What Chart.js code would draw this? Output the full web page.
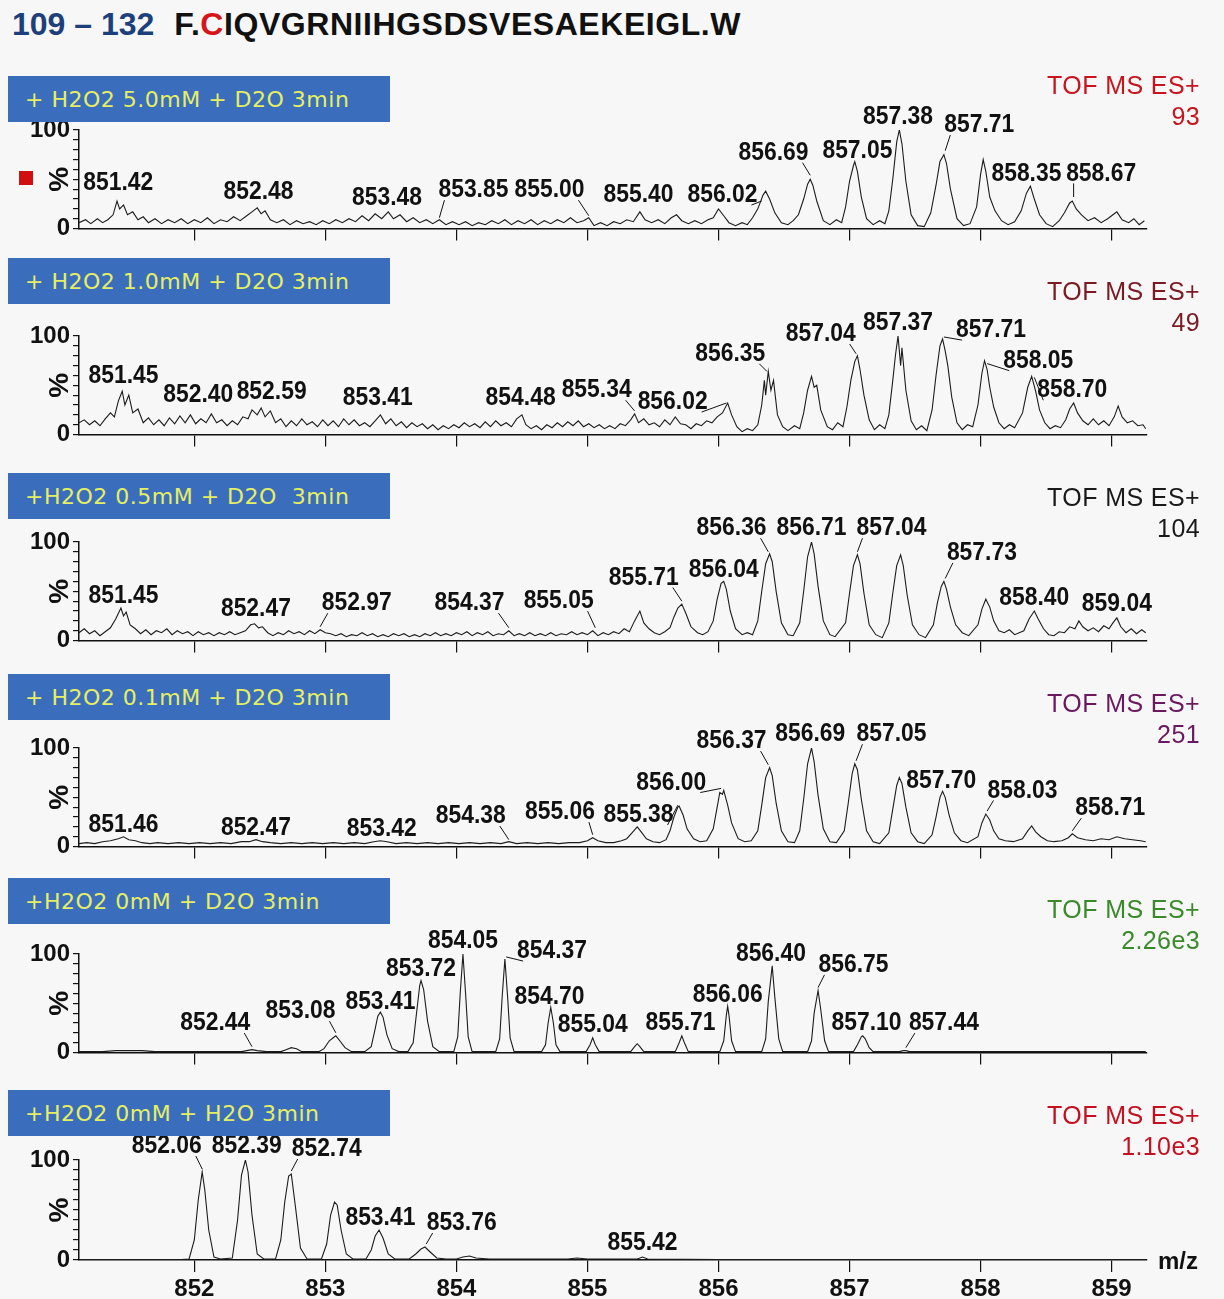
<!DOCTYPE html>
<html>
<head>
<meta charset="utf-8">
<script src="https://cdn.jsdelivr.net/npm/chart.js@4.4.0/dist/chart.umd.min.js"></script>
<style>
  html, body { margin: 0; padding: 0; }
  body { width: 1224px; height: 1299px; overflow: hidden; background: #f7f7f7; position: relative;
         font-family: "Liberation Sans", Arial, sans-serif; }
  canvas { position: absolute; left: 0; }
  #title { position: absolute; left: 12px; top: 8px; font-weight: bold; font-size: 32px; line-height: 32px; white-space: pre; }
  #title .num { color: #1d3f7c; }
  #title .seq { color: #111; margin-left: 20px; letter-spacing: 0.55px; }
  #title .red { color: #d7141a; }
  .box { position: absolute; left: 8px; width: 382px; height: 46px; background: #3b6dbd; z-index: 2;
         color: #e6ef62; font-family: "DejaVu Sans", Verdana, sans-serif; font-size: 22px; letter-spacing: 0.5px;
         display: flex; align-items: center; padding-left: 17px; box-sizing: border-box; white-space: pre; }
  .tof { position: absolute; right: 24px; font-size: 25px; line-height: 25px; letter-spacing: 0.4px; text-align: right; z-index: 2; }
  #mz { position: absolute; left: 1158px; top: 1249px; font-weight: bold; font-size: 24px; line-height: 24px; color: #111; }
  #sq { position: absolute; left: 19px; top: 171px; width: 14px; height: 14px; background: #d01010; z-index: 2; }
</style>
</head>
<body>
<div id="title"><span class="num">109 – 132</span><span class="seq">F.<span class="red">C</span>IQVGRNIIHGSDSVESAEKEIGL.W</span></div>
<div id="panels"></div>
<div id="sq"></div>
<div id="mz">m/z</div>
<script>
// axis ticks
var xTicks = [852, 853, 854, 855, 856, 857, 858, 859];
var yTicks = [0, 10, 20, 30, 40, 50, 60, 70, 80, 90, 100];

// panel headers
var conditions = ['+ H2O2 5.0mM + D2O 3min', '+ H2O2 1.0mM + D2O 3min', '+H2O2 0.5mM + D2O  3min',
                  '+ H2O2 0.1mM + D2O 3min', '+H2O2 0mM + D2O 3min', '+H2O2 0mM + H2O 3min'];
var maxIntensity = ['93', '49', '104', '251', '2.26e3', '1.10e3'];

// spectra, [m/z, %]
var trace1 = [
 [851.12,6],[851.17,9],[851.21,5],[851.26,10],[851.30,6],[851.34,9],[851.38,14],[851.41,28],[851.43,20],[851.46,24],[851.49,14],[851.53,17],[851.57,9],[851.61,12],[851.65,6],[851.70,10],[851.75,5],[851.80,9],[851.85,6],[851.90,10],[851.95,5],[852.00,9],[852.05,6],[852.10,11],[852.15,5],[852.20,9],[852.25,7],[852.30,12],[852.35,8],[852.40,13],[852.44,17],[852.48,21],[852.51,15],[852.54,18],[852.58,9],[852.63,6],[852.68,9],[852.73,4],[852.78,8],[852.83,5],[852.88,7],[852.93,4],[852.98,8],[853.03,5],[853.08,9],[853.13,6],[853.18,10],[853.23,7],[853.28,13],[853.33,8],[853.38,15],[853.43,10],[853.48,17],[853.52,10],[853.57,14],[853.62,7],[853.67,11],[853.72,6],[853.77,9],[853.82,5],[853.87,9],[853.92,4],[853.97,7],[854.02,4],[854.07,7],[854.12,3],[854.17,6],[854.22,4],[854.27,8],[854.32,5],[854.37,9],[854.42,4],[854.47,8],[854.52,5],[854.57,9],[854.62,4],[854.67,8],[854.72,5],[854.77,9],[854.82,6],[854.87,11],[854.92,6],[854.97,8],[855.01,11],[855.05,3],[855.10,6],[855.15,3],[855.20,7],[855.25,5],[855.30,9],[855.35,7],[855.40,17],[855.44,9],[855.49,6],[855.54,9],[855.59,5],[855.64,11],[855.68,14],[855.72,8],[855.77,5],[855.82,8],[855.87,5],[855.92,9],[855.96,11],[856.00,20],[856.04,13],[856.08,6],[856.13,3],[856.18,6],[856.22,4],[856.26,11],
 [856.30,20],[856.34,34],[856.36,38],[856.39,30],[856.43,16],[856.48,6],[856.53,4],[856.57,8],
 [856.61,14],[856.65,30],[856.68,45],[856.70,50],[856.72,44],[856.75,28],[856.80,8],[856.85,4],[856.90,9],[856.94,6],
 [856.97,22],[857.00,48],[857.03,64],[857.04,68],[857.06,58],[857.09,32],[857.13,10],[857.18,4],[857.23,8],[857.27,5],
 [857.30,18],[857.33,50],[857.36,88],[857.38,100],[857.40,86],[857.43,48],[857.47,14],[857.52,3],[857.57,2],
 [857.62,16],[857.66,44],[857.69,68],[857.72,75],[857.74,66],[857.77,40],[857.82,10],[857.87,3],[857.92,5],
 [857.97,22],[858.00,55],[858.02,70],[858.04,58],[858.07,32],[858.11,18],[858.16,8],[858.21,4],[858.26,7],
 [858.31,18],[858.35,36],[858.38,43],[858.41,30],[858.45,14],[858.50,5],[858.55,2],[858.60,8],
 [858.64,16],[858.68,26],[858.70,28],[858.73,20],[858.77,14],[858.82,8],[858.87,11],[858.92,6],[858.97,10],[859.01,14],[859.04,17],[859.08,9],[859.13,6],[859.17,10],[859.21,4],[859.25,8]
];
var trace2 = [
 [851.12,12],[851.16,15],[851.20,10],[851.24,14],[851.28,9],[851.32,16],[851.36,22],[851.39,18],[851.42,34],[851.45,44],[851.47,30],[851.50,40],[851.53,22],[851.57,26],[851.61,12],[851.65,17],[851.69,10],[851.73,15],[851.77,9],[851.81,17],[851.85,11],[851.89,19],[851.93,12],[851.97,20],[852.01,11],[852.05,16],[852.09,12],[852.13,21],[852.17,12],[852.21,15],[852.25,9],[852.29,14],[852.33,10],[852.37,18],[852.41,16],[852.44,25],[852.48,20],[852.51,27],[852.54,18],[852.58,24],[852.62,12],[852.66,16],[852.70,8],[852.74,14],[852.78,9],[852.82,16],[852.86,10],[852.90,13],[852.94,8],[852.98,15],[853.02,9],[853.06,14],[853.10,8],[853.14,16],[853.18,10],[853.22,15],[853.26,9],[853.30,12],[853.34,8],[853.38,14],[853.42,20],[853.46,11],[853.50,16],[853.54,9],[853.58,13],[853.62,7],[853.66,12],[853.70,8],[853.74,11],[853.78,6],[853.82,10],[853.86,5],[853.90,9],[853.94,6],[853.98,10],[854.02,7],[854.06,12],[854.10,8],[854.14,11],[854.18,7],[854.22,13],[854.26,8],[854.30,14],[854.34,9],[854.38,12],[854.42,8],[854.46,16],[854.50,20],[854.53,10],[854.57,6],[854.61,9],[854.65,5],[854.69,10],[854.73,7],[854.77,12],[854.81,8],[854.85,13],[854.89,9],[854.93,14],[854.97,8],[855.01,11],[855.05,7],[855.09,10],[855.13,6],[855.17,9],[855.21,6],[855.25,11],[855.29,9],[855.33,15],[855.36,21],[855.39,12],[855.43,16],[855.47,10],[855.51,12],[855.55,8],[855.59,15],[855.63,10],[855.67,18],[855.71,11],[855.75,10],[855.79,6],[855.83,11],[855.87,9],[855.91,14],[855.95,12],[855.99,18],[856.03,22],[856.07,32],[856.10,20],[856.14,8],[856.18,3],[856.22,6],[856.26,4],[856.30,10],
 [856.33,30],[856.35,55],[856.36,40],[856.38,64],[856.40,45],[856.42,55],[856.45,20],[856.49,8],[856.53,4],[856.58,9],[856.62,6],
 [856.65,22],[856.68,45],[856.71,59],[856.73,48],[856.75,50],[856.78,25],[856.83,8],[856.87,5],[856.91,12],[856.95,8],
 [856.98,28],[857.01,55],[857.04,74],[857.06,80],[857.08,66],[857.11,40],[857.15,15],[857.19,5],[857.23,10],[857.27,6],
 [857.30,20],[857.33,55],[857.35,80],[857.37,100],[857.39,70],[857.40,88],[857.43,45],[857.47,14],[857.51,5],[857.55,9],[857.59,4],
 [857.63,25],[857.66,60],[857.69,90],[857.71,97],[857.73,85],[857.75,70],[857.78,38],[857.82,12],[857.86,5],[857.90,10],[857.94,8],
 [857.98,30],[858.01,62],[858.03,75],[858.05,66],[858.07,48],[858.10,28],[858.14,12],[858.18,6],[858.22,10],[858.26,7],
 [858.32,22],[858.36,48],[858.39,59],[858.42,44],[858.45,25],[858.49,12],[858.53,6],[858.57,9],[858.61,7],
 [858.65,15],[858.68,26],[858.71,32],[858.74,22],[858.78,14],[858.82,10],[858.86,16],[858.90,10],[858.94,14],[858.98,9],[859.02,18],[859.05,29],[859.08,18],[859.12,12],[859.16,14],[859.20,9],[859.24,10],[859.26,6]
];
var trace3 = [
 [851.12,8],[851.16,12],[851.20,7],[851.24,10],[851.28,5],[851.32,9],[851.36,13],[851.40,22],[851.44,33],[851.46,25],[851.48,29],[851.51,16],[851.55,12],[851.59,7],[851.63,11],[851.67,6],[851.71,10],[851.75,8],[851.79,12],[851.83,6],[851.87,10],[851.91,7],[851.95,9],[851.99,5],[852.03,9],[852.07,6],[852.11,8],[852.15,5],[852.19,8],[852.23,6],[852.27,9],[852.31,6],[852.35,8],[852.39,10],[852.43,16],[852.46,17],[852.49,13],[852.52,14],[852.56,8],[852.60,5],[852.64,8],[852.68,6],[852.72,10],[852.76,7],[852.80,9],[852.84,6],[852.88,10],[852.92,7],[852.96,11],[853.00,8],[853.04,7],[853.08,5],[853.12,7],[853.16,4],[853.20,6],[853.24,5],[853.28,8],[853.32,5],[853.36,7],[853.40,4],[853.44,6],[853.48,4],[853.52,7],[853.56,5],[853.60,7],[853.64,4],[853.68,6],[853.72,4],[853.76,7],[853.80,5],[853.84,8],[853.88,5],[853.92,7],[853.96,5],[854.00,8],[854.04,6],[854.08,9],[854.12,5],[854.16,8],[854.20,6],[854.24,9],[854.28,5],[854.32,7],[854.36,6],[854.40,10],[854.44,5],[854.48,7],[854.52,5],[854.56,8],[854.60,5],[854.64,7],[854.68,5],[854.72,8],[854.76,5],[854.80,7],[854.84,6],[854.88,9],[854.92,6],[854.96,8],[855.00,6],[855.04,10],[855.08,5],[855.12,8],[855.16,6],[855.20,9],[855.24,7],[855.28,12],[855.32,9],[855.36,20],[855.40,30],[855.43,18],[855.47,12],[855.51,8],[855.55,6],[855.59,9],[855.63,13],
 [855.66,24],[855.69,33],[855.72,37],[855.75,28],[855.79,14],[855.84,8],[855.88,6],[855.92,9],
 [855.96,20],[855.99,42],[856.02,58],[856.04,60],[856.06,52],[856.09,30],[856.13,12],[856.18,6],[856.22,8],[856.26,6],
 [856.30,20],[856.33,50],[856.36,78],[856.39,88],[856.41,80],[856.44,50],[856.48,18],[856.53,6],[856.57,5],
 [856.62,18],[856.65,50],[856.68,85],[856.71,100],[856.73,88],[856.76,55],[856.80,20],[856.85,6],[856.89,4],
 [856.97,18],[857.00,48],[857.03,76],[857.06,87],[857.08,78],[857.11,48],[857.15,16],[857.20,6],[857.25,3],
 [857.30,18],[857.33,48],[857.36,76],[857.39,87],[857.41,76],[857.44,46],[857.48,16],[857.53,6],[857.58,3],
 [857.64,16],[857.67,38],[857.70,55],[857.72,60],[857.74,52],[857.77,34],[857.81,16],[857.86,8],[857.91,5],
 [857.98,16],[858.01,32],[858.04,42],[858.07,34],[858.10,20],[858.14,10],[858.18,8],[858.22,11],[858.26,6],
 [858.33,10],[858.37,22],[858.41,30],[858.44,22],[858.48,12],[858.52,6],[858.56,5],[858.60,9],[858.64,8],[858.68,14],[858.72,12],[858.75,20],[858.78,14],[858.82,10],[858.86,13],[858.90,9],[858.94,15],[858.98,12],[859.01,18],[859.04,23],[859.07,14],[859.11,8],[859.15,12],[859.19,7],[859.23,11],[859.26,8]
];
var trace4 = [
 [851.12,3],[851.18,4],[851.24,3],[851.30,5],[851.36,6],[851.42,8],[851.46,10],[851.50,7],[851.55,6],[851.60,4],[851.66,3],[851.72,4],[851.80,3],[851.88,4],[851.96,3],[852.04,4],[852.12,3],[852.20,4],[852.28,3],[852.36,5],[852.42,5],[852.47,7],[852.52,5],[852.58,4],[852.66,3],[852.74,4],[852.82,3],[852.90,4],[852.98,3],[853.06,4],[853.14,3],[853.22,4],[853.30,3],[853.37,5],[853.42,6],[853.47,5],[853.54,3],[853.62,4],[853.70,3],[853.78,4],[853.86,3],[853.94,4],[854.02,3],[854.10,4],[854.18,3],[854.26,4],[854.34,3],[854.40,5],[854.46,3],[854.54,4],[854.62,3],[854.70,4],[854.78,3],[854.86,4],[854.94,4],[855.00,6],[855.04,9],[855.08,6],[855.14,4],[855.20,4],[855.26,6],[855.30,8],
 [855.34,14],[855.38,20],[855.41,15],[855.45,8],[855.50,5],[855.55,4],[855.60,7],
 [855.63,16],[855.66,30],[855.69,40],[855.70,41],[855.73,32],[855.76,18],[855.81,8],[855.86,5],[855.91,6],
 [855.96,18],[855.99,40],[856.01,55],[856.03,53],[856.04,57],[856.07,42],[856.10,24],[856.15,8],[856.20,5],[856.25,6],
 [856.30,16],[856.33,42],[856.36,70],[856.39,80],[856.41,72],[856.44,44],[856.48,16],[856.53,5],[856.58,4],
 [856.62,16],[856.65,48],[856.68,84],[856.71,100],[856.73,86],[856.76,52],[856.80,18],[856.85,5],[856.90,4],
 [856.96,16],[856.99,44],[857.02,74],[857.04,84],[857.06,78],[857.09,48],[857.13,16],[857.18,5],[857.23,3],
 [857.30,14],[857.33,38],[857.36,62],[857.38,70],[857.40,64],[857.43,40],[857.47,14],[857.52,5],[857.57,3],
 [857.63,12],[857.66,30],[857.69,50],[857.71,56],[857.73,50],[857.76,32],[857.80,14],[857.85,6],[857.90,4],
 [857.98,10],[858.01,24],[858.04,33],[858.07,27],[858.10,16],[858.14,8],[858.19,6],[858.25,5],
 [858.32,8],[858.36,16],[858.39,21],[858.42,15],[858.46,10],[858.51,6],[858.56,5],[858.62,6],
 [858.67,9],[858.70,13],[858.74,9],[858.80,7],[858.86,6],[858.92,8],[858.98,7],[859.04,10],[859.10,8],[859.16,7],[859.22,6],[859.26,5]
];
var trace5 = [
 [851.12,1],[851.30,1],[851.40,2],[851.50,2],[851.60,2],[851.70,1],[851.80,1],[851.90,1],[852.00,1],[852.20,1],[852.36,1],[852.40,2],[852.44,3],[852.48,2],[852.55,1],[852.66,1],[852.70,3],[852.74,5],[852.78,4],[852.82,1],[852.95,1],[852.99,4],[853.03,12],[853.06,15],[853.08,17],[853.11,12],[853.15,5],[853.20,1],
 [853.30,1],[853.35,6],[853.38,24],[853.40,37],[853.42,41],[853.44,36],[853.47,18],[853.51,4],[853.56,1],
 [853.63,1],[853.67,10],[853.70,45],[853.72,68],[853.73,73],[853.75,64],[853.78,32],[853.82,6],[853.87,1],
 [853.98,1],[854.01,16],[854.03,62],[854.05,100],[854.07,60],[854.09,16],[854.12,1],
 [854.30,1],[854.33,14],[854.35,58],[854.37,95],[854.39,58],[854.41,15],[854.44,1],
 [854.65,1],[854.68,8],[854.70,30],[854.72,46],[854.74,30],[854.76,8],[854.79,1],
 [854.99,1],[855.02,8],[855.04,15],[855.06,8],[855.09,1],
 [855.33,1],[855.36,6],[855.38,9],[855.40,6],[855.43,1],
 [855.67,1],[855.70,10],[855.72,17],[855.74,10],[855.77,1],
 [856.01,1],[856.04,12],[856.06,38],[856.07,47],[856.08,38],[856.10,12],[856.13,1],
 [856.33,1],[856.36,14],[856.38,52],[856.41,88],[856.43,56],[856.46,14],[856.49,1],
 [856.68,1],[856.71,12],[856.73,40],[856.76,63],[856.78,44],[856.81,12],[856.84,1],
 [857.03,1],[857.06,8],[857.09,16],[857.10,17],[857.12,14],[857.15,5],[857.18,1],
 [857.38,1],[857.41,2],[857.43,2],[857.46,1],[857.60,1],[858.00,1],[858.50,1],[859.26,1]
];
var trace6 = [
 [851.12,0.5],[851.50,0.5],[851.90,0.5],[851.96,1],[852.00,20],[852.03,60],[852.06,88],[852.08,70],[852.11,30],[852.15,3],[852.20,1],
 [852.29,2],[852.33,40],[852.36,85],[852.39,100],[852.41,88],[852.44,45],[852.48,6],[852.53,1],
 [852.62,1],[852.66,20],[852.69,58],[852.72,84],[852.74,86],[852.77,55],[852.81,12],[852.86,1],
 [852.97,1],[853.01,16],[853.04,45],[853.07,58],[853.09,55],[853.12,30],[853.16,6],[853.21,1],
 [853.31,1],[853.35,10],[853.38,24],[853.41,30],[853.44,22],[853.48,6],[853.53,1],
 [853.64,1],[853.69,6],[853.73,11],[853.76,13],[853.80,8],[853.85,2],[853.92,1],[854.00,1],[854.05,3],[854.10,4],[854.15,2],[854.25,1],[854.60,1],[854.85,1],[854.92,2],[855.00,1],[855.38,1],[855.42,3],[855.46,1],[856.00,0.5],[859.26,0.5]
];

// peak annotations: [text, text m/z, text %, leader to m/z, leader to %]
var notes1 = [
 ['851.42', 851.42, 47], ['852.48', 852.49, 38], ['853.48', 853.47, 32],
 ['853.85', 854.13, 40, 853.87, 9], ['855.00', 854.71, 40, 855.01, 11], ['855.40', 855.39, 35],
 ['856.02', 856.03, 35, 856.33, 26], ['856.69', 856.42, 78, 856.70, 52], ['857.05', 857.06, 80],
 ['857.38', 857.37, 114], ['857.71', 857.99, 106, 857.73, 77], ['858.35', 858.35, 57],
 ['858.67', 858.92, 57, 858.71, 30]
];
var notes2 = [
 ['851.45', 851.46, 61], ['852.40', 852.03, 41], ['852.59', 852.59, 44], ['853.41', 853.40, 38],
 ['854.48', 854.49, 38], ['855.34', 855.07, 46, 855.36, 22], ['856.02', 855.65, 34, 856.06, 30],
 ['856.35', 856.09, 83, 856.37, 62], ['857.04', 856.78, 103, 857.05, 80], ['857.37', 857.37, 114],
 ['857.71', 858.08, 107, 857.72, 97], ['858.05', 858.44, 76, 858.05, 70], ['858.70', 858.70, 46, 858.41, 56]
];
var notes3 = [
 ['851.45', 851.46, 46], ['852.47', 852.47, 33], ['852.97', 853.24, 39, 852.96, 12],
 ['854.37', 854.10, 39, 854.40, 11], ['855.05', 854.78, 41, 855.06, 11], ['855.71', 855.43, 65, 855.72, 38],
 ['856.04', 856.04, 73], ['856.36', 856.10, 115, 856.38, 88], ['856.71', 856.71, 115],
 ['857.04', 857.32, 115, 857.06, 88], ['857.73', 858.01, 90, 857.73, 61], ['858.40', 858.41, 44],
 ['859.04', 859.04, 38]
];
var notes4 = [
 ['851.46', 851.46, 23], ['852.47', 852.47, 20], ['853.42', 853.43, 19],
 ['854.38', 854.11, 32, 854.40, 5], ['855.06', 854.79, 36, 855.04, 10], ['855.38', 855.39, 33, 855.69, 40],
 ['856.00', 855.64, 66, 856.02, 57], ['856.37', 856.10, 108, 856.38, 81], ['856.69', 856.70, 115],
 ['857.05', 857.32, 115, 857.05, 85], ['857.70', 857.70, 68], ['858.03', 858.32, 58, 858.05, 34],
 ['858.71', 858.99, 40, 858.70, 14]
];
var notes5 = [
 ['852.44', 852.16, 31, 852.44, 4], ['853.08', 852.81, 43, 853.08, 18], ['853.41', 853.42, 53],
 ['853.72', 853.73, 86], ['854.05', 854.05, 114], ['854.37', 854.73, 104, 854.38, 95],
 ['854.70', 854.71, 58], ['855.04', 855.04, 29], ['855.71', 855.71, 31], ['856.06', 856.07, 60],
 ['856.40', 856.40, 101], ['856.75', 857.03, 90, 856.76, 64], ['857.10', 857.13, 31],
 ['857.44', 857.72, 31, 857.43, 3]
];
var notes6 = [
 ['852.06', 851.79, 115, 852.06, 89], ['852.39', 852.40, 115], ['852.74', 853.01, 112, 852.74, 87],
 ['853.41', 853.42, 43], ['853.76', 854.04, 38, 853.77, 14], ['855.42', 855.42, 18]
];

var traces = [trace1, trace2, trace3, trace4, trace5, trace6];
var notes = [notes1, notes2, notes3, notes4, notes5, notes6];
var tofColors = ['#c8141e', '#7a1a22', '#1a1a1a', '#6a1860', '#3a8a2a', '#c41020'];
var zeroLines = [230, 436, 642, 848, 1054, 1260];
var boxTops = [76, 258, 473, 674, 878, 1090];

var labelFont = 'bold 26px "Liberation Sans", Arial, sans-serif';
var tickFont = { family: '"Liberation Sans", Arial, sans-serif', size: 24, weight: 'bold' };

var notesPlugin = {
    id: 'notes',
    afterDraw: function (chart) {
        var ctx = chart.ctx;
        var xs = chart.scales.x, ys = chart.scales.y;
        var list = chart.options.plugins.notes.list;
        ctx.save();
        // the '%' axis label
        ctx.font = 'bold 28px "Liberation Sans", Arial, sans-serif';
        ctx.fillStyle = '#111';
        ctx.textAlign = 'center';
        ctx.textBaseline = 'middle';
        ctx.save();
        ctx.translate(60, ys.getPixelForValue(50));
        ctx.rotate(-Math.PI / 2);
        ctx.fillText('%', 0, 0);
        ctx.restore();

        ctx.font = labelFont;
        ctx.strokeStyle = '#111';
        ctx.lineWidth = 1;
        list.forEach(function (n) {
            var px = xs.getPixelForValue(n[1]);
            var py = ys.getPixelForValue(n[2]);
            var w = ctx.measureText(n[0]).width * 0.88;
            ctx.save();
            ctx.translate(px, py);
            ctx.scale(0.88, 1);
            ctx.fillText(n[0], 0, 1);
            ctx.restore();
            if (n.length > 3) {
                var tx = xs.getPixelForValue(n[3]);
                var ty = ys.getPixelForValue(n[4]);
                var left = px - w / 2, right = px + w / 2;
                var sx = Math.min(Math.max(tx, left + 6), right - 6);
                var sy = py + 11;
                ctx.beginPath();
                ctx.moveTo(sx, sy);
                ctx.lineTo(tx, ty - 2);
                ctx.stroke();
            }
        });
        ctx.restore();
    }
};

var holder = document.getElementById('panels');

function makePanel(i) {
    var last = (i === traces.length - 1);
    var top = zeroLines[i] - 130;
    var canvas = document.createElement('canvas');
    canvas.width = 1224;
    canvas.height = last ? 180 : 146;
    canvas.style.top = top + 'px';
    holder.appendChild(canvas);

    var box = document.createElement('div');
    box.className = 'box';
    box.style.top = boxTops[i] + 'px';
    box.textContent = conditions[i];
    holder.appendChild(box);

    var tof = document.createElement('div');
    tof.className = 'tof';
    tof.style.top = (zeroLines[i] - 157) + 'px';
    tof.style.color = tofColors[i];
    tof.innerHTML = 'TOF MS ES+<br><span style="display:block;margin-top:6px">' + maxIntensity[i] + '</span>';
    holder.appendChild(tof);

    new Chart(canvas.getContext('2d'), {
        type: 'line',
        data: {
            datasets: [{
                data: traces[i].map(function (p) { return { x: p[0], y: p[1] }; }),
                borderColor: '#1c1c1c',
                borderWidth: 1.1,
                pointRadius: 0,
                tension: 0,
                fill: false
            }]
        },
        options: {
            responsive: false,
            animation: false,
            events: [],
            layout: { padding: { top: 30, right: 77, left: 0, bottom: 0 } },
            plugins: {
                legend: { display: false },
                tooltip: { enabled: false },
                notes: { list: notes[i] }
            },
            scales: {
                x: {
                    type: 'linear',
                    min: 851.12,
                    max: 859.27,
                    afterBuildTicks: function (s) { s.ticks = xTicks.map(function (v) { return { value: v }; }); },
                    afterFit: function (s) { s.height = last ? 50 : 16; },
                    grid: { drawOnChartArea: false, drawTicks: true, tickLength: 12, color: '#111', lineWidth: 1.2 },
                    border: { display: true, color: '#111', width: 1.5 },
                    ticks: {
                        display: last,
                        autoSkip: false,
                        maxRotation: 0,
                        padding: 3,
                        color: '#111',
                        font: tickFont,
                        callback: function (v) { return String(v); }
                    }
                },
                y: {
                    min: 0,
                    max: 100,
                    afterBuildTicks: function (s) { s.ticks = yTicks.map(function (v) { return { value: v }; }); },
                    afterFit: function (s) { s.width = 79; },
                    grid: { drawOnChartArea: false, drawTicks: true, tickLength: 6, color: '#111', lineWidth: 1.2 },
                    border: { display: true, color: '#111', width: 1.5 },
                    ticks: {
                        autoSkip: false,
                        padding: 3,
                        color: '#111',
                        font: tickFont,
                        callback: function (v) { return (v === 0 || v === 100) ? String(v) : ''; }
                    }
                }
            }
        },
        plugins: [notesPlugin]
    });
}

for (var i = 0; i < traces.length; i++) makePanel(i);
</script>
</body>
</html>
